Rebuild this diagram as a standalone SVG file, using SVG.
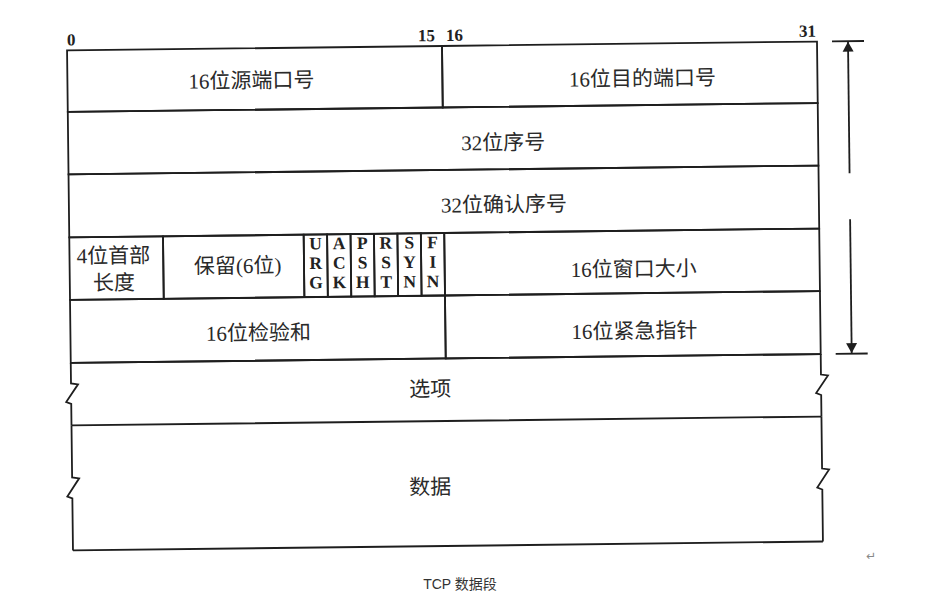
<svg xmlns="http://www.w3.org/2000/svg" width="945" height="611" viewBox="0 0 945 611">
<style>
  .box{fill:none;stroke:#1e1e1e;stroke-width:1.8}
  .edge{fill:none;stroke:#1e1e1e;stroke-width:1.8;stroke-linejoin:miter}
  .lbl{font-family:'Liberation Serif','Noto Sans CJK SC',serif;font-size:21px;fill:#2a2a2a;text-anchor:middle}
  .flag{font-family:'Liberation Serif',serif;font-size:17.5px;font-weight:bold;fill:#222;text-anchor:middle}
  .bit{font-family:'Liberation Serif',serif;font-size:17px;font-weight:bold;fill:#222}
  .cap{font-family:'Liberation Sans','Noto Sans CJK SC',sans-serif;font-size:14px;fill:#333;text-anchor:middle}
  .mark{font-family:'DejaVu Sans',sans-serif;font-size:12px;fill:#888}
  .arr{stroke:#1e1e1e;stroke-width:1.8;fill:none}
</style>
<defs>
  <marker id="ah" viewBox="0 0 10 14" refX="10" refY="7" markerWidth="10" markerHeight="14" markerUnits="userSpaceOnUse" orient="auto">
    <path d="M0,1.5 L10,7 L0,12.5 Z" fill="#1e1e1e"/>
  </marker>
</defs>
<rect width="945" height="611" fill="#ffffff"/>
<g transform="rotate(-0.68 444 297)">
  <g id="bits">
    <text class="bit" x="70" y="41">0</text>
    <text class="bit" x="438" y="41" text-anchor="end">15</text>
    <text class="bit" x="449" y="41">16</text>
    <text class="bit" x="819" y="41" text-anchor="end">31</text>
  </g>
  <g id="src-port">
    <rect class="box" x="70" y="46" width="375" height="61.5"/>
    <text class="lbl" x="254" y="85.5">16位源端口号</text>
  </g>
  <g id="dst-port">
    <rect class="box" x="445" y="46" width="375" height="61.5"/>
    <text class="lbl" x="645" y="88">16位目的端口号</text>
  </g>
  <g id="seq">
    <rect class="box" x="70" y="107.5" width="750" height="62.5"/>
    <text class="lbl" x="505" y="150.5">32位序号</text>
  </g>
  <g id="ack">
    <rect class="box" x="70" y="170" width="750" height="63"/>
    <text class="lbl" x="505" y="212.5">32位确认序号</text>
  </g>
  <g id="hlen">
    <rect class="box" x="70" y="233" width="93.75" height="62.5"/>
    <text class="lbl" x="114" y="259">4位首部</text>
    <text class="lbl" x="114" y="286">长度</text>
  </g>
  <g id="reserved">
    <rect class="box" x="163.75" y="233" width="140.65" height="62.5"/>
    <text class="lbl" x="238" y="270.5">保留(6位)</text>
  </g>
  <g id="flag-urg">
    <rect class="box" x="304.4" y="233" width="23.44" height="62.5"/>
    <text class="flag" x="316.1" y="248">U</text><text class="flag" x="316.1" y="267.5">R</text><text class="flag" x="316.1" y="287">G</text>
  </g>
  <g id="flag-ack">
    <rect class="box" x="327.84" y="233" width="23.44" height="62.5"/>
    <text class="flag" x="339.6" y="248">A</text><text class="flag" x="339.6" y="267.5">C</text><text class="flag" x="339.6" y="287">K</text>
  </g>
  <g id="flag-psh">
    <rect class="box" x="351.28" y="233" width="23.44" height="62.5"/>
    <text class="flag" x="363" y="248">P</text><text class="flag" x="363" y="267.5">S</text><text class="flag" x="363" y="287">H</text>
  </g>
  <g id="flag-rst">
    <rect class="box" x="374.72" y="233" width="23.44" height="62.5"/>
    <text class="flag" x="386.4" y="248">R</text><text class="flag" x="386.4" y="267.5">S</text><text class="flag" x="386.4" y="287">T</text>
  </g>
  <g id="flag-syn">
    <rect class="box" x="398.16" y="233" width="23.44" height="62.5"/>
    <text class="flag" x="409.9" y="248">S</text><text class="flag" x="409.9" y="267.5">Y</text><text class="flag" x="409.9" y="287">N</text>
  </g>
  <g id="flag-fin">
    <rect class="box" x="421.6" y="233" width="23.4" height="62.5"/>
    <text class="flag" x="433.3" y="248">F</text><text class="flag" x="433.3" y="267.5">I</text><text class="flag" x="433.3" y="287">N</text>
  </g>
  <g id="window">
    <rect class="box" x="445" y="233" width="375" height="62.5"/>
    <text class="lbl" x="634" y="278.5">16位窗口大小</text>
  </g>
  <g id="checksum">
    <rect class="box" x="70" y="295.5" width="375" height="63"/>
    <text class="lbl" x="258" y="338">16位检验和</text>
  </g>
  <g id="urgent">
    <rect class="box" x="445" y="295.5" width="375" height="63"/>
    <text class="lbl" x="634" y="340.5">16位紧急指针</text>
  </g>
  <g id="options">
    <path class="edge" d="M70,358.5 H820 M70,421 H820"/>
    <path class="edge" d="M70,358.5 V379 L77,380 L65,397.5 L70,399.5 V421"/>
    <path class="edge" d="M820,358.5 V379 L827,380 L815,397.5 L820,399.5 V421"/>
    <text class="lbl" x="429" y="396">选项</text>
  </g>
  <g id="data">
    <path class="edge" d="M70,546 H820"/>
    <path class="edge" d="M70,421 V473 L77,474 L65,492 L70,494 V546"/>
    <path class="edge" d="M820,421 V473 L827,474 L815,492 L820,494 V546"/>
    <text class="lbl" x="428" y="494">数据</text>
  </g>
  <g id="connectors">
    <line class="arr" x1="835" y1="46" x2="867" y2="46"/>
    <line class="arr" x1="835" y1="358.5" x2="867" y2="358.5"/>
    <line class="arr" x1="851" y1="178" x2="851" y2="46.5" marker-end="url(#ah)"/>
    <line class="arr" x1="851" y1="224" x2="851" y2="358" marker-end="url(#ah)"/>
  </g>
</g>
<g id="caption">
  <text class="cap" x="460" y="589">TCP 数据段</text>
  <text class="mark" x="866" y="560">↵</text>
</g>
</svg>
